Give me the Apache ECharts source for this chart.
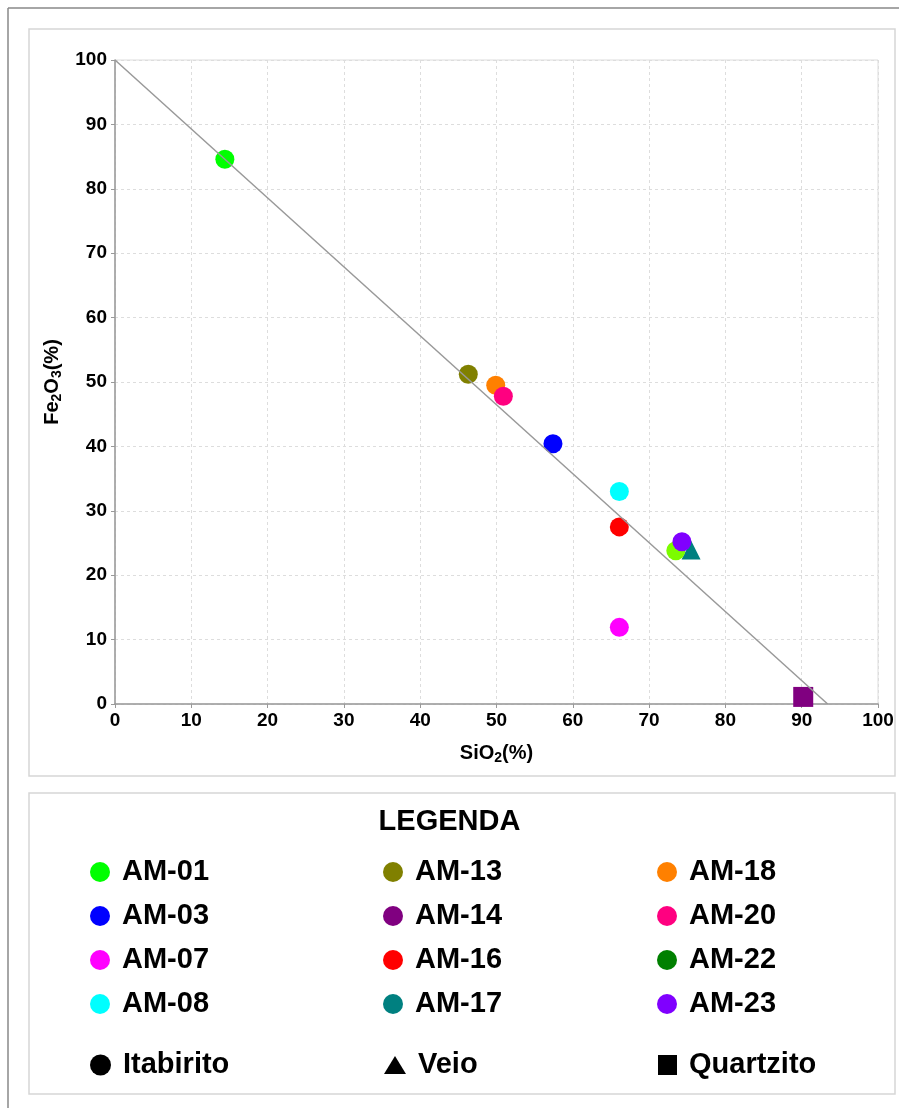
<!DOCTYPE html>
<html>
<head>
<meta charset="utf-8">
<script src="https://cdn.jsdelivr.net/npm/echarts@6/dist/echarts.min.js"></script>
<style>
html,body{margin:0;padding:0;background:#fff;}
#c{width:899px;height:1108px;}
</style>
</head>
<body>
<div id="c"></div>
<script>
// ---- data ----
const samples = ['AM-01','AM-03','AM-07','AM-08','AM-13','AM-14','AM-16','AM-17','AM-18','AM-20','AM-22','AM-23'];
const sio2    = [14.4, 57.4, 66.1, 66.1, 46.3, 90.2, 66.1, 75.5, 49.9, 50.9, 73.5, 74.3];
const fe2o3   = [84.6, 40.4, 11.9, 33.0, 51.2, 1.1, 27.5, 23.9, 49.5, 47.8, 23.8, 25.2];
const rockType = ['Itabirito','Itabirito','Itabirito','Itabirito','Itabirito','Quartzito','Itabirito','Veio','Itabirito','Itabirito','Itabirito','Itabirito'];
const rockTypes = ['Itabirito','Veio','Quartzito'];
const refLineX = [0, 93.4];
const refLineY = [100, 0];
const axisTicks = [0,10,20,30,40,50,60,70,80,90,100];

// ---- styles ----
const sampleColors = ['#00ff00','#0000ff','#ff00ff','#00ffff','#808000','#800080','#ff0000','#008080','#ff8000','#ff0080','#008000','#8000ff'];
const pointColorOverride = {'AM-22':'#7cfc00'};
const typeSymbol = {'Itabirito':'circle','Veio':'triangle','Quartzito':'rect'};
const typeSize = {'Itabirito':19,'Veio':19,'Quartzito':20};

const FONT = '"Liberation Sans", Arial, sans-serif';

const series = samples.map((s,i)=>({
  name: s,
  type: 'scatter',
  symbol: typeSymbol[rockType[i]],
  symbolSize: typeSize[rockType[i]],
  itemStyle: {color: sampleColors[i], opacity: 1},
  data: [{value:[sio2[i], fe2o3[i]], itemStyle: pointColorOverride[s] ? {color: pointColorOverride[s]} : undefined}],
  z: 3,
  emphasis: {disabled: true}
}));
rockTypes.forEach(t=>{
  series.push({name:t, type:'scatter', symbol:typeSymbol[t], itemStyle:{color:'#000000', opacity:1}, data:[]});
});
series.push({
  name: 'ref',
  type: 'line',
  data: refLineX.map((x,i)=>[x, refLineY[i]]),
  showSymbol: false,
  symbol: 'none',
  lineStyle: {color:'#999', width:1.5},
  z: 5,
  silent: true
});

const legendText = {color:'#000', fontSize:29, fontWeight:'bold', fontFamily:FONT, lineHeight:30, padding:[0,0,0,7]};
function sampleLegend(names, left){
  return {
    data: names, orient:'vertical', left:left, top:857, padding:0,
    icon:'circle', itemWidth:20, itemHeight:20, itemGap:14,
    textStyle: legendText, selectedMode:false
  };
}
function typeLegend(name, icon, left, w, h){
  return {data:[{name:name, icon:icon, itemStyle:{color:'#000000', opacity:1}}], left:left, top:1050, padding:0,
    itemWidth:w, itemHeight:h, textStyle:legendText, selectedMode:false};
}

const nameStyle = {color:'#000', fontSize:20, fontWeight:'bold', fontFamily:FONT,
  rich:{s:{fontSize:14, fontWeight:'bold', fontFamily:FONT, color:'#000', padding:[10,0,0,0]}}};

const option = {
  animation: false,
  backgroundColor: '#fff',
  grid: {left:115, right:21, top:60, bottom:404, show:true, borderColor:'#dcdcdc', borderWidth:1},
  xAxis: {
    type:'value', min:0, max:100, interval:10,
    name:'SiO{s|2}(%)', nameLocation:'middle', nameGap:37,
    nameTextStyle: nameStyle,
    axisLine:{show:true, onZero:false, lineStyle:{color:'#999', width:1.5}},
    axisTick:{show:true, length:4, lineStyle:{color:'#999'}},
    axisLabel:{color:'#000', fontSize:19, fontWeight:'bold', fontFamily:FONT, margin:7,
      formatter: v => axisTicks.includes(v) ? String(v) : ''},
    splitLine:{show:true, lineStyle:{color:'#ddd', type:[3,3]}}
  },
  yAxis: {
    type:'value', min:0, max:100, interval:10,
    name:'Fe{s|2}O{s|3}(%)', nameLocation:'middle', nameGap:46,
    nameTextStyle: nameStyle,
    axisLine:{show:true, onZero:false, lineStyle:{color:'#999', width:1.5}},
    axisTick:{show:true, length:4, lineStyle:{color:'#999'}},
    axisLabel:{color:'#000', fontSize:19, fontWeight:'bold', fontFamily:FONT, margin:8,
      formatter: v => axisTicks.includes(v) ? String(v) : ''},
    splitLine:{show:true, lineStyle:{color:'#ddd', type:[3,3]}}
  },
  legend: [
    sampleLegend(samples.slice(0,4), 90),
    sampleLegend(samples.slice(4,8), 383),
    sampleLegend(samples.slice(8,12), 657),
    typeLegend('Itabirito','circle', 90, 21, 21),
    typeLegend('Veio','triangle', 384, 22, 18),
    typeLegend('Quartzito','rect', 658, 19, 20)
  ],
  graphic: [
    {type:'line', shape:{x1:8, y1:8, x2:899, y2:8}, style:{stroke:'#888', lineWidth:1.5}, silent:true},
    {type:'line', shape:{x1:8, y1:8, x2:8, y2:1108}, style:{stroke:'#888', lineWidth:1.5}, silent:true},
    {type:'rect', shape:{x:29, y:29, width:866, height:747}, style:{fill:null, stroke:'#d6d6d6', lineWidth:1.5}, silent:true, z:-1},
    {type:'rect', shape:{x:29, y:793, width:866, height:301}, style:{fill:null, stroke:'#d6d6d6', lineWidth:1.5}, silent:true, z:-1},
    {type:'text', left:'center', top:807, style:{text:'LEGENDA', fill:'#000', font:'bold 29px "Liberation Sans", Arial, sans-serif'}, silent:true}
  ],
  series: series
};

const chart = echarts.init(document.getElementById('c'), null, {renderer:'canvas'});
chart.setOption(option);
</script>
</body>
</html>
